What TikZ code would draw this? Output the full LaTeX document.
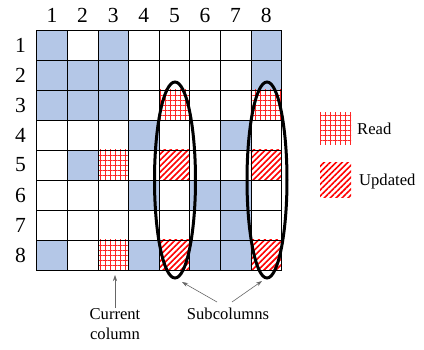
\documentclass[tikz,border=0pt]{standalone}
\usepackage{fontspec}
\setmainfont{Liberation Serif}
\usetikzlibrary{patterns.meta,shapes.geometric,arrows.meta}
\definecolor{cellblue}{RGB}{180,199,231}
\begin{document}
\begin{tikzpicture}[x=1pt,y=-1pt,
  cellpos/.style={minimum width=30.6pt,minimum height=30pt,inner sep=0pt,outer sep=0pt,anchor=north west},
  gridline/.style={draw=black,line width=0.8pt},
  bluecell/.style={fill=cellblue},
  readcell/.style={pattern={Hatch[angle=0,distance=5pt,line width=0.5pt]},pattern color=red!85!white},
  updcell/.style={pattern={Lines[angle=45,distance=4.2pt,line width=1.6pt]},pattern color=red},
  idx/.style={font=\fontsize{21.5}{21.5}\selectfont,inner sep=0pt},
  lbl/.style={font=\fontsize{16.6}{20}\selectfont,inner sep=0pt},
  subcol/.style={draw=black,line width=3pt,ellipse,inner sep=0pt},
  pointer/.style={draw=gray!80!black,line width=0.6pt,-{Stealth[length=6pt,width=4pt]}}
  ]
\useasboundingbox[fill=white] (0,0) rectangle (424,350);
% cell anchors
\foreach \r in {1,...,8}
  \foreach \c in {1,...,8}
    \node[cellpos] (c\r-\c) at ({36.7+(\c-1)*30.6},{30+(\r-1)*30}) {};
% fills
\foreach \r/\c in {1/1,1/3,1/8,2/1,2/2,2/3,2/8,3/1,3/2,3/3,4/4,4/7,5/2,6/4,6/6,6/7,7/7,8/1,8/4,8/6,8/7}
  \path[bluecell] (c\r-\c.north west) rectangle (c\r-\c.south east);
\foreach \r/\c in {3/5,3/8,5/3,8/3}
  \path[readcell] (c\r-\c.north west) rectangle (c\r-\c.south east);
\foreach \r/\c in {5/5,5/8,8/5,8/8}
  \path[updcell] (c\r-\c.north west) rectangle (c\r-\c.south east);
% grid
\foreach \r in {1,...,8}
  \foreach \c in {1,...,8}
    \path[gridline] (c\r-\c.north west) rectangle (c\r-\c.south east);
% indices
\foreach \c in {1,...,8}
  \node[idx] (col\c) at ({36.7+(\c-0.5)*30.6},15.5) {\c};
\foreach \r in {1,...,8}
  \node[idx] (row\r) at (20.5,{30+(\r-0.5)*30}) {\r};
% subcolumn ellipses
\node[subcol,minimum width=41pt,minimum height=196pt] (e5) at (175,180) {};
\node[subcol,minimum width=40pt,minimum height=196pt] (e8) at (267,180) {};
% labels
\node[lbl,align=center] (cur) at (115,324) {Current\\column};
\node[lbl] (sub) at (228,314) {Subcolumns};
\coordinate (curtip) at (115,275);
\coordinate (s5tip) at (182,282);
\coordinate (s8tip) at (262,281);
\coordinate (subL) at (217,302);
\coordinate (subR) at (232,302);
\draw[pointer] (cur.north) -- (curtip);
\draw[pointer] (subL) -- (s5tip);
\draw[pointer] (subR) -- (s8tip);
% legend
\node[cellpos,readcell,minimum width=31pt,minimum height=32pt] (legR) at (320,113) {};
\node[cellpos,updcell,minimum width=31pt,minimum height=35pt] (legU) at (320,163) {};
\node[lbl,anchor=west] (legRt) at (357,129) {Read};
\node[lbl,anchor=west] (legUt) at (359,182) {Updated};
\end{tikzpicture}
\end{document}
